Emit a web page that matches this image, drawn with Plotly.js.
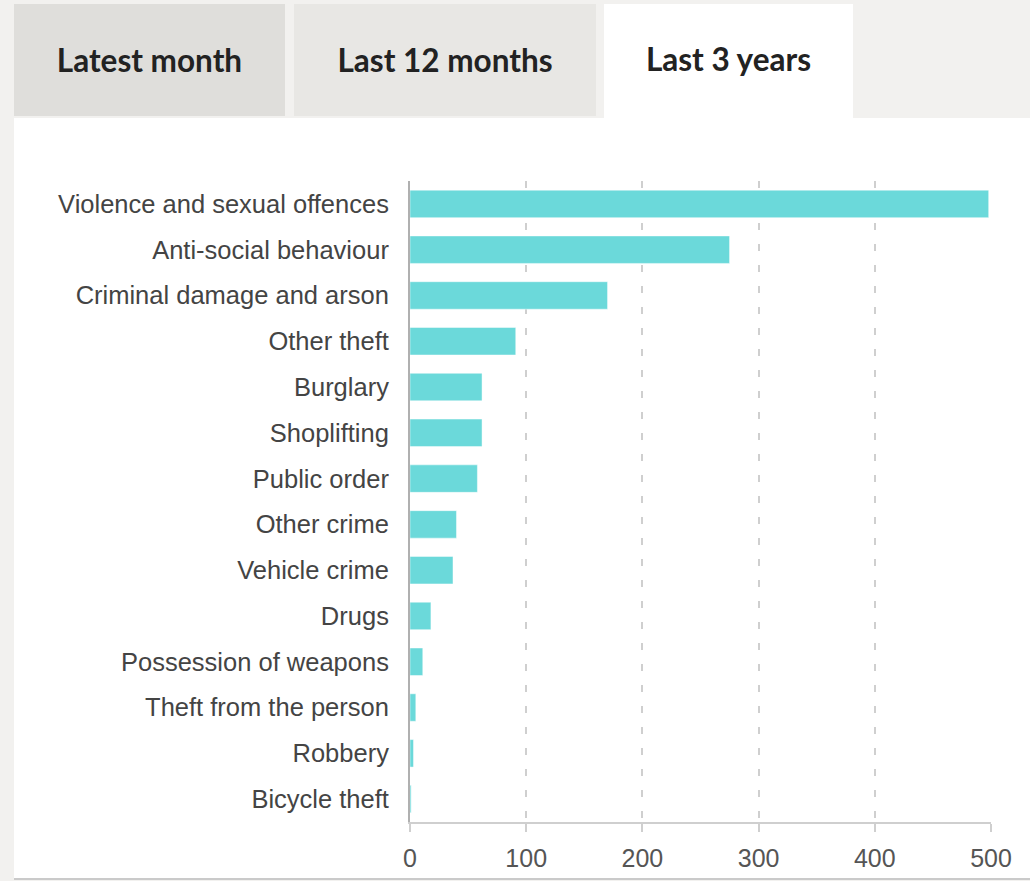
<!DOCTYPE html>
<html><head><meta charset="utf-8">
<script src="https://cdn.plot.ly/plotly-3.0.1.min.js"></script>
<style>
html,body{margin:0;padding:0;background:#f2f1ef;width:1030px;height:881px;overflow:hidden;font-family:Lato,sans-serif}
.tab{position:absolute;top:4px;height:112px;display:flex;align-items:center;justify-content:center;font-family:Lato,sans-serif;font-weight:700;font-size:31.5px;color:#222}
#panel{position:absolute;left:14px;top:118px;width:1016px;height:760px;background:#fff;border-bottom:2px solid #cacaca}
#chart{position:absolute;left:0;top:0;width:1016px;height:760px}
</style></head>
<body>
<div class="tab" style="left:14px;width:271px;background:#dfdedb">Latest month</div>
<div class="tab" style="left:294px;width:302px;background:#e8e7e4">Last 12 months</div>
<div class="tab" style="left:604px;width:249px;background:#ffffff;height:114px;align-items:flex-start"><span style="margin-top:36px">Last 3 years</span></div>
<div id="panel"><div id="chart"></div></div>
<script>
const categories = ["Violence and sexual offences","Anti-social behaviour","Criminal damage and arson","Other theft","Burglary","Shoplifting","Public order","Other crime","Vehicle crime","Drugs","Possession of weapons","Theft from the person","Robbery","Bicycle theft"];
const values = [498, 275, 170, 91, 62, 62, 58, 40, 37, 18, 11, 5, 3, 1];
const tickValues = [0, 100, 200, 300, 400, 500];
const tickLabels = ["0", "100", "200", "300", "400", "500"];

const trace = {
  type: 'bar', orientation: 'h',
  x: values, y: categories,
  marker: {color: '#6bd9da', line: {color: 'rgba(255,255,255,0.45)', width: 1}},
  hoverinfo: 'none'
};
const layout = {
  width: 1016, height: 760,
  margin: {l: 396, r: 39, t: 63, b: 56},
  paper_bgcolor: '#ffffff', plot_bgcolor: '#ffffff',
  bargap: 0.4,
  showlegend: false,
  font: {family: '"Liberation Sans", Arial, sans-serif', size: 25, color: '#444'},
  xaxis: {
    range: [0, 500], tickmode: 'array', tickvals: tickValues, ticktext: tickLabels,
    showgrid: true, gridcolor: '#cfcfcf', gridwidth: 2, griddash: '7px,14px',
    zeroline: false, showline: true, linecolor: '#cfcfcf', linewidth: 2,
    ticks: 'outside', ticklen: 8, tickwidth: 2, tickcolor: '#cfcfcf',
    ticklabelstandoff: 5,
    tickfont: {size: 25, color: '#555'}, fixedrange: true
  },
  yaxis: {
    type: 'category', autorange: 'reversed', showgrid: false, zeroline: false,
    showline: true, linecolor: '#b0b0b0', linewidth: 2, ticks: '',
    ticklabelstandoff: 14,
    tickfont: {size: 25.5, color: '#444'}, fixedrange: true
  }
};
Plotly.newPlot('chart', [trace], layout, {displayModeBar: false, staticPlot: true});
</script>
</body></html>
